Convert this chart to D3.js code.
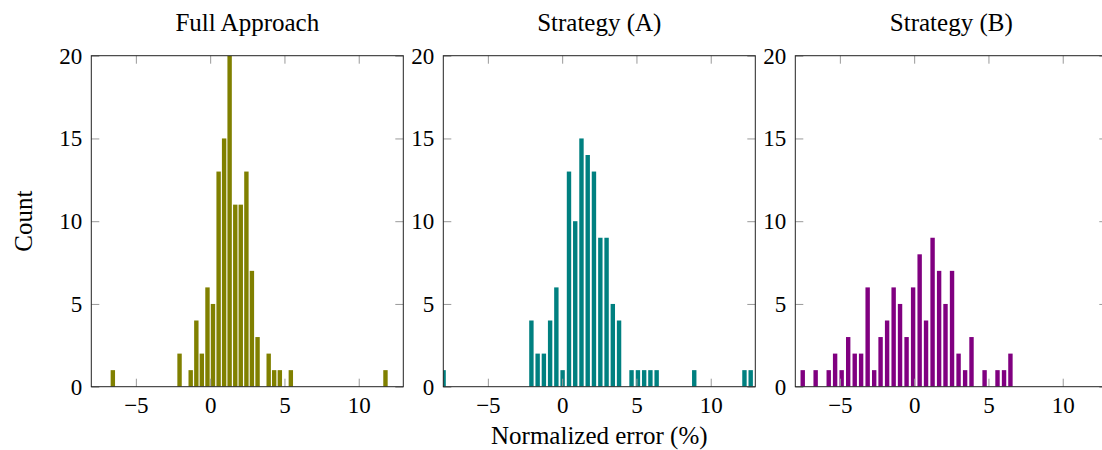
<!DOCTYPE html>
<html>
<head>
<meta charset="utf-8">
<script src="https://cdn.jsdelivr.net/npm/d3@7"></script>
<style>
  html, body { margin: 0; padding: 0; background: #fff; }
  svg { display: block; }
  text { font-family: "Liberation Serif", "DejaVu Serif", serif; fill: #000; }
</style>
</head>
<body>
<svg id="chart" width="1102" height="450"></svg>
<script>
// ---- data (bin centres in % and counts) ----
const titles = ["Full Approach", "Strategy (A)", "Strategy (B)"];
const colors = ["#808000", "#008080", "#800080"];

const fullX = [-6.55, -2.06, -1.31, -0.93, -0.56, -0.18, 0.19, 0.57, 0.94, 1.31, 1.69, 2.06, 2.44, 2.81, 3.19, 3.94, 4.31, 4.69, 5.43, 11.80];
const fullY = [1, 2, 1, 4, 2, 6, 5, 13, 15, 20, 11, 11, 13, 7, 3, 2, 1, 1, 1, 1];

const stratAX = [-7.98, -2.07, -1.65, -1.23, -0.81, -0.39, 0.03, 0.46, 0.88, 1.30, 1.72, 2.14, 2.57, 2.99, 3.41, 3.83, 4.67, 5.10, 5.52, 5.94, 6.36, 8.89, 12.27, 12.69];
const stratAY = [1, 4, 2, 2, 4, 6, 1, 13, 10, 15, 14, 13, 9, 9, 5, 4, 1, 1, 1, 1, 1, 1, 1, 1];

const stratBX = [-7.50, -6.63, -5.75, -5.32, -4.88, -4.44, -4.00, -3.57, -3.13, -2.69, -2.26, -1.82, -1.38, -0.95, -0.51, -0.07, 0.37, 0.80, 1.24, 1.68, 2.11, 2.55, 2.99, 3.43, 3.86, 4.74, 5.61, 6.05, 6.48];
const stratBY = [1, 1, 1, 2, 1, 3, 2, 2, 6, 1, 3, 4, 6, 5, 3, 6, 8, 4, 9, 7, 5, 7, 2, 1, 3, 1, 1, 1, 2];

const xTicks = [-5, 0, 5, 10];
const yTicks = [0, 5, 10, 15, 20];
const xDomain = [-8, 13];
const yDomain = [0, 20];

const xLabel = "Normalized error (%)";
const yLabel = "Count";

// ---- layout ----
const panelLefts = [91.3, 443.3, 795.3];
const panelW = 312;
const plotTop = 55.7, plotBottom = 386.7;
const tickFont = 23;
const labelFont = 25;
const barW = 4.4;
const tickLen = 8;

const svg = d3.select("#chart");
const seriesX = [fullX, stratAX, stratBX];
const seriesY = [fullY, stratAY, stratBY];

const y = d3.scaleLinear().domain(yDomain).range([plotBottom, plotTop]);

const fmt = d => (d < 0 ? "\u2212" + Math.abs(d) : String(d));

panelLefts.forEach((left, i) => {
  const x = d3.scaleLinear().domain(xDomain).range([left, left + panelW]);
  const g = svg.append("g");

  const clipId = "clip" + i;
  svg.append("clipPath").attr("id", clipId)
    .append("rect").attr("x", left).attr("y", plotTop).attr("width", panelW).attr("height", plotBottom - plotTop);

  // bars
  const data = seriesX[i].map((v, k) => ({ x: v, c: seriesY[i][k] }));
  g.append("g").attr("clip-path", `url(#${clipId})`)
    .selectAll("rect").data(data).join("rect")
    .attr("x", d => x(d.x) - barW / 2)
    .attr("width", barW)
    .attr("y", d => y(d.c))
    .attr("height", d => y(0) - y(d.c))
    .attr("fill", colors[i]);

  // axes
  const styleAxis = sel => {
    sel.select(".domain").remove();
    sel.selectAll(".tick line").attr("stroke", "#999").attr("stroke-width", 1);
    sel.selectAll(".tick text").style("font-size", tickFont + "px")
      .style("font-family", '"Liberation Serif", "DejaVu Serif", serif').attr("fill", "#000");
  };

  g.append("g").attr("transform", `translate(0,${plotBottom})`)
    .call(d3.axisBottom(x).tickValues(xTicks).tickFormat(fmt).tickSizeInner(-tickLen).tickSizeOuter(0).tickPadding(9.5))
    .call(styleAxis);
  g.append("g").attr("transform", `translate(0,${plotTop})`)
    .call(d3.axisTop(x).tickValues(xTicks).tickFormat("").tickSizeInner(-tickLen).tickSizeOuter(0))
    .call(styleAxis);
  g.append("g").attr("transform", `translate(${left},0)`)
    .call(d3.axisLeft(y).tickValues(yTicks).tickFormat(fmt).tickSizeInner(-tickLen).tickSizeOuter(0).tickPadding(9))
    .call(styleAxis);
  g.append("g").attr("transform", `translate(${left + panelW},0)`)
    .call(d3.axisRight(y).tickValues(yTicks).tickFormat("").tickSizeInner(-tickLen).tickSizeOuter(0))
    .call(styleAxis);

  // frame
  g.append("rect")
    .attr("x", left).attr("y", plotTop).attr("width", panelW).attr("height", plotBottom - plotTop)
    .attr("fill", "none").attr("stroke", "#222").attr("stroke-width", 1);

  // title
  g.append("text")
    .attr("x", left + panelW / 2).attr("y", 31)
    .attr("text-anchor", "middle")
    .style("font-size", labelFont + "px")
    .text(titles[i]);
});

// x label
svg.append("text")
  .attr("x", panelLefts[1] + panelW / 2).attr("y", 444)
  .attr("text-anchor", "middle")
  .style("font-size", labelFont + "px")
  .text(xLabel);

// y label
svg.append("text")
  .attr("transform", `translate(32,${(plotTop + plotBottom) / 2}) rotate(-90)`)
  .attr("text-anchor", "middle")
  .style("font-size", labelFont + "px")
  .text(yLabel);
</script>
</body>
</html>
